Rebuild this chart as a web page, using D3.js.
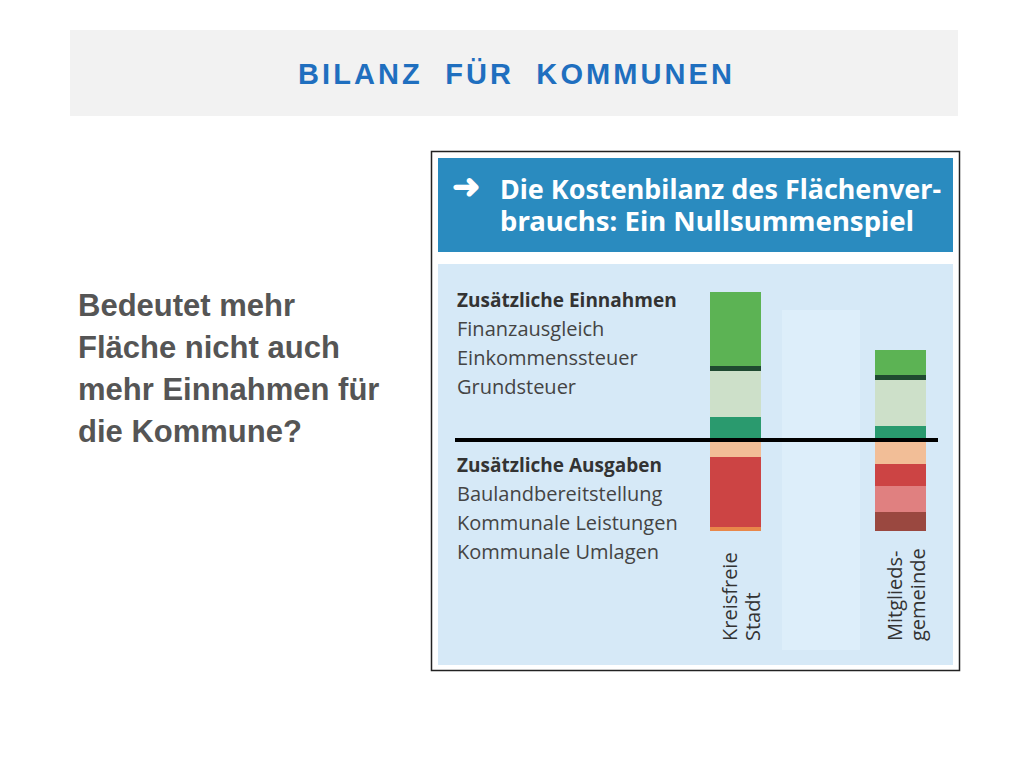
<!DOCTYPE html>
<html><head><meta charset="utf-8">
<script src="https://cdn.jsdelivr.net/npm/d3@7"></script>
<style>body{margin:0;background:#fff}</style>
</head><body>
<script>
// Werte in relativen Einheiten
const gemeinden = ["Kreisfreie Stadt", "Mitgliedsgemeinde"];
const einnahmenKategorien = ["Grundsteuer", "Einkommenssteuer", "Finanzausgleich"];
const einnahmenFarben = ["#2a9a6e", "#cde0c9", "#5cb354"];
const einnahmenWerte = [[23, 48, 77], [14, 48, 28]];
const ausgabenSegmente = [["#f2be97", "#cc4444", "#e8874a"], ["#f2be97", "#cc4444", "#e08080", "#9a4840"]];
const ausgabenWerte = [[17, 70, 4], [24, 22, 26, 19]];
const legendeEin = ["Finanzausgleich", "Einkommenssteuer", "Grundsteuer"];
const legendeAus = ["Baulandbereitstellung", "Kommunale Leistungen", "Kommunale Umlagen"];
const fragen = ["Bedeutet mehr", "Fläche nicht auch", "mehr Einnahmen für", "die Kommune?"];

const svg = d3.select("body").append("svg").attr("width", 1024).attr("height", 768);
svg.append("rect").attr("x", 70).attr("y", 30).attr("width", 888).attr("height", 86).attr("fill", "#f2f2f2");
svg.append("text").attr("x", 298).attr("y", 84)
  .attr("font-family", "Liberation Sans, Arial").attr("font-weight", "bold").attr("font-size", 29)
  .attr("fill", "#1f6fbf").attr("xml:space", "preserve").attr("textLength", 434).text("BILANZ  FÜR  KOMMUNEN");

svg.selectAll("text.q").data(fragen).enter().append("text").attr("class", "q")
  .attr("x", 78).attr("y", (d, i) => 316 + i * 42)
  .attr("font-family", "Liberation Sans, Arial").attr("font-weight", "bold").attr("font-size", 31)
  .attr("fill", "#555").text(d => d);

// Panel
svg.append("rect").attr("x", 431.5).attr("y", 151.5).attr("width", 528).attr("height", 519)
  .attr("fill", "#fff").attr("stroke", "#222").attr("stroke-width", 1.5);
svg.append("rect").attr("x", 438).attr("y", 158).attr("width", 515).attr("height", 94).attr("fill", "#2a8bbf");
const hf = "Noto Sans, Open Sans, sans-serif";
svg.append("text").attr("x", 452).attr("y", 198).attr("fill", "#fff").attr("font-family", hf)
  .attr("font-weight", "bold").attr("font-size", 34).text("➜");
svg.append("text").attr("x", 500).attr("y", 199).attr("fill", "#fff").attr("font-family", hf)
  .attr("font-weight", "bold").attr("font-size", 27).attr("lengthAdjust", "spacingAndGlyphs").attr("textLength", 441).text("Die Kostenbilanz des Flächenver-");
svg.append("text").attr("x", 500).attr("y", 231).attr("fill", "#fff").attr("font-family", hf)
  .attr("font-weight", "bold").attr("font-size", 27).attr("lengthAdjust", "spacingAndGlyphs").attr("textLength", 414).text("brauchs: Ein Nullsummenspiel");
svg.append("rect").attr("x", 438).attr("y", 264).attr("width", 515).attr("height", 401).attr("fill", "#d6e9f7");
svg.append("rect").attr("x", 782).attr("y", 310).attr("width", 78).attr("height", 340).attr("fill", "#ddeefa");

// Legende
const lf = "Open Sans, Noto Sans, sans-serif";
function legende(titel, items, y0) {
  svg.append("text").attr("x", 457).attr("y", y0).attr("font-family", lf).attr("font-weight", "bold")
    .attr("font-size", 19).attr("fill", "#333").text(titel);
  svg.selectAll(null).data(items).enter().append("text").attr("x", 457).attr("y", (d, i) => y0 + 29 * (i + 1))
    .attr("font-family", lf).attr("font-size", 20).attr("fill", "#444").text(d => d);
}
legende("Zusätzliche Einnahmen", legendeEin, 307);
legende("Zusätzliche Ausgaben", legendeAus, 472);

// Skalen
const x = d3.scaleOrdinal().domain(gemeinden).range([710, 875]);
const bw = 51;
const y = d3.scaleLinear().domain([-100, 150]).range([540, 290]);

gemeinden.forEach((g, gi) => {
  let acc = 0;
  const ein = einnahmenWerte[gi].map((v, i) => { const s = { y0: acc, y1: acc + v, c: einnahmenFarben[i] }; acc += v; return s; });
  acc = 0;
  const aus = ausgabenWerte[gi].map((v, i) => { const s = { y0: acc, y1: acc - v, c: ausgabenSegmente[gi][i] }; acc -= v; return s; });
  svg.selectAll(null).data(ein.concat(aus)).enter().append("rect")
    .attr("x", x(g)).attr("width", bw)
    .attr("y", d => y(Math.max(d.y0, d.y1))).attr("height", d => Math.abs(y(d.y0) - y(d.y1)))
    .attr("fill", d => d.c);
  // dunkle Trennlinie zwischen Einkommenssteuer und Finanzausgleich
  svg.append("rect").attr("x", x(g)).attr("width", bw)
    .attr("y", y(ein[1].y1) - 3).attr("height", 5).attr("fill", "#1f4a30");
  const parts = g === "Kreisfreie Stadt" ? ["Kreisfreie", "Stadt"] : ["Mitglieds-", "gemeinde"];
  const cx = x(g) + bw / 2;
  parts.forEach((p, i) => {
    svg.append("text").attr("transform", `translate(${cx + 1 + i * 23},641) rotate(-90)`)
      .attr("font-family", lf).attr("font-size", 20).attr("fill", "#333").text(p);
  });
});
svg.append("line").attr("x1", 455).attr("x2", 938).attr("y1", y(0)).attr("y2", y(0))
  .attr("stroke", "#000").attr("stroke-width", 4);
</script>
</body></html>
